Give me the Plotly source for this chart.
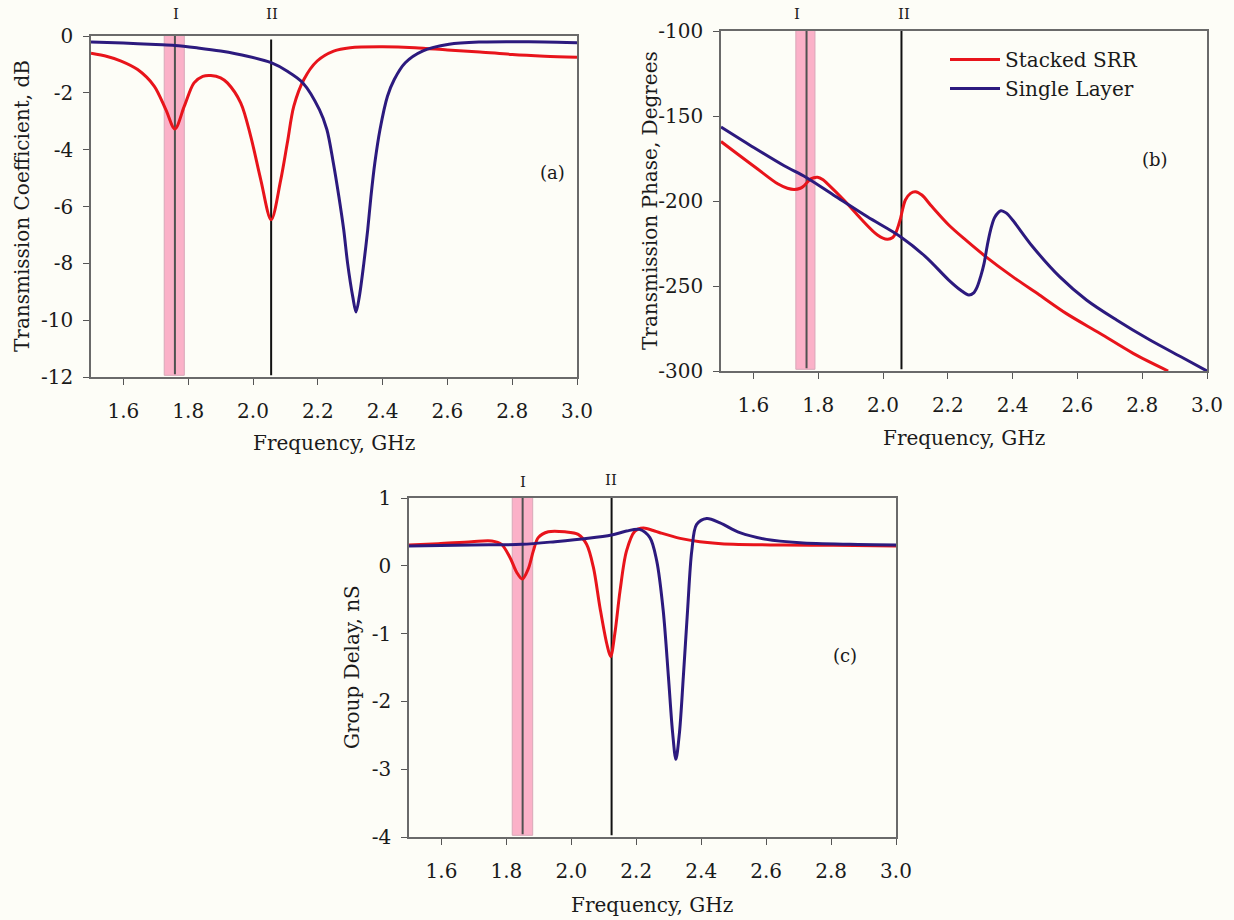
import plotly.graph_objects as go

# ---------------- data ----------------
# (a) Transmission coefficient, dB
a_red_f = [1.50, 1.55, 1.593, 1.644, 1.695, 1.731, 1.759, 1.788, 1.818, 1.845, 1.870, 1.90, 1.921, 1.962,
           1.993, 2.024, 2.056, 2.085, 2.106, 2.126, 2.157, 2.198, 2.249, 2.30, 2.40, 2.50, 2.60, 2.70,
           2.80, 2.90, 3.00]
a_red_v = [-0.61, -0.72, -0.88, -1.18, -1.76, -2.59, -3.27, -2.47, -1.65, -1.42, -1.39, -1.47, -1.65, -2.35,
           -3.53, -5.06, -6.47, -5.1, -3.76, -2.47, -1.53, -0.88, -0.53, -0.41, -0.38, -0.41, -0.49, -0.56,
           -0.65, -0.71, -0.75]
a_blue_f = [1.50, 1.60, 1.70, 1.759, 1.83, 1.90, 1.983, 2.056, 2.106, 2.154, 2.205, 2.228, 2.248, 2.265,
            2.28, 2.292, 2.308, 2.318, 2.328, 2.342, 2.354, 2.364, 2.376, 2.392, 2.415, 2.436, 2.47, 2.523,
            2.605, 2.708, 2.80, 2.90, 3.00]
a_blue_v = [-0.21, -0.25, -0.30, -0.33, -0.42, -0.53, -0.71, -0.94, -1.24, -1.65, -2.59, -3.29, -4.47, -5.65,
            -6.82, -8.0, -9.18, -9.71, -9.18, -8.0, -6.82, -5.65, -4.47, -3.29, -2.12, -1.53, -0.94, -0.53,
            -0.29, -0.21, -0.20, -0.21, -0.24]

# (b) Transmission phase, degrees
b_red_f = [1.50, 1.552, 1.613, 1.675, 1.705, 1.726, 1.745, 1.757, 1.777, 1.798, 1.815, 1.829, 1.88, 1.931,
           1.983, 2.013, 2.030, 2.040, 2.053, 2.069, 2.085, 2.10, 2.12, 2.151, 2.203, 2.255, 2.317, 2.40,
           2.483, 2.565, 2.669, 2.772, 2.88]
b_red_v = [-165, -172.5, -181.2, -189.9, -192.5, -193.2, -192.5, -190.9, -187, -186, -187.5, -189.9, -199.6,
           -210.3, -220, -222.5, -221.5, -218.5, -211, -199.4, -195.5, -194.5, -196.5, -203.3, -214.1,
           -222.9, -232.7, -244.5, -255.3, -266.1, -277.8, -289.6, -300]
b_blue_f = [1.50, 1.593, 1.695, 1.762, 1.849, 1.952, 2.054, 2.131, 2.203, 2.24, 2.265, 2.28, 2.291, 2.302,
            2.312, 2.322, 2.332, 2.345, 2.364, 2.38, 2.40, 2.462, 2.545, 2.628, 2.721, 2.824, 2.928, 3.00]
b_blue_v = [-156.5, -167.6, -179.3, -186, -196.7, -209.3, -221, -232.7, -246.5, -252.5, -255.3, -254,
            -250.4, -244, -236.7, -226, -217.1, -209.5, -205.7, -207, -211.2, -226.9, -244.5, -258.2,
            -270, -281.8, -292.5, -300]

# (c) Group delay, nS
c_red_f = [1.50, 1.59, 1.693, 1.755, 1.785, 1.811, 1.832, 1.849, 1.867, 1.883, 1.898, 1.929, 1.98, 2.021,
           2.047, 2.068, 2.088, 2.109, 2.121, 2.134, 2.15, 2.17, 2.196, 2.222, 2.252, 2.273, 2.335, 2.396,
           2.499, 2.653, 2.807, 3.00]
c_red_v = [0.307, 0.327, 0.356, 0.366, 0.317, 0.122, -0.098, -0.195, -0.049, 0.22, 0.415, 0.502, 0.502,
           0.463, 0.317, -0.024, -0.61, -1.146, -1.34, -1.0, -0.37, 0.22, 0.512, 0.556, 0.52, 0.488, 0.405,
           0.356, 0.317, 0.307, 0.302, 0.293]
c_blue_f = [1.50, 1.693, 1.847, 1.95, 2.052, 2.124, 2.17, 2.21, 2.242, 2.263, 2.283, 2.299, 2.312, 2.322,
            2.333, 2.345, 2.358, 2.371, 2.386, 2.417, 2.458, 2.519, 2.601, 2.704, 2.858, 3.00]
c_blue_v = [0.293, 0.307, 0.317, 0.356, 0.405, 0.454, 0.512, 0.537, 0.415, 0.073, -0.659, -1.634, -2.463,
            -2.854, -2.463, -1.634, -0.659, 0.22, 0.61, 0.698, 0.634, 0.488, 0.39, 0.341, 0.317, 0.307]

series_names = ["Stacked SRR", "Single Layer"]

# marker positions (GHz): band edges, line I, line II per panel
band_lo = [1.726, 1.731, 1.818]
band_hi = [1.788, 1.790, 1.881]
line_I = [1.759, 1.764, 1.850]
line_II = [2.056, 2.057, 2.124]
label_I_x = [1.762, 1.735, 1.851]
label_II_x = [2.059, 2.065, 2.122]
panel_labels = ["(a)", "(b)", "(c)"]
panel_label_pos = [(2.923, -4.82), (2.841, -175.5), (2.843, -1.32)]

x_ticks = [1.6, 1.8, 2.0, 2.2, 2.4, 2.6, 2.8, 3.0]
ya_ticks = [0, -2, -4, -6, -8, -10, -12]
yb_ticks = [-100, -150, -200, -250, -300]
yc_ticks = [1, 0, -1, -2, -3, -4]

# ---------------- figure ----------------
W, H = 1234, 920
RED = "#e8141b"
BLUE = "#2c1a7e"
FONT = "DejaVu Serif"
BG = "#fdfdf7"
TXT = "#1a1a1a"

def px_x(p):
    return p / W

def px_y(p):
    return 1 - p / H

fig = go.Figure()

panels = [
    ("x", "y", a_red_f, a_red_v, a_blue_f, a_blue_v),
    ("x2", "y2", b_red_f, b_red_v, b_blue_f, b_blue_v),
    ("x3", "y3", c_red_f, c_red_v, c_blue_f, c_blue_v),
]
for i, (xa, ya, rf, rv, bf, bv) in enumerate(panels):
    fig.add_trace(go.Scatter(x=rf, y=rv, xaxis=xa, yaxis=ya, mode="lines",
                             line=dict(color=RED, width=3, shape="spline", smoothing=0.9),
                             name=series_names[0], showlegend=(i == 1)))
    fig.add_trace(go.Scatter(x=bf, y=bv, xaxis=xa, yaxis=ya, mode="lines",
                             line=dict(color=BLUE, width=3, shape="spline", smoothing=0.9),
                             name=series_names[1], showlegend=(i == 1)))

# y ranges for markers
y_ranges = [(-12, 0), (-300, -100), (-4, 1)]
shapes = []
annotations = []
for i in range(3):
    xr = "x" if i == 0 else f"x{i+1}"
    yr = "y" if i == 0 else f"y{i+1}"
    lo, hi = y_ranges[i]
    span = hi - lo
    shapes.append(dict(type="rect", xref=xr, yref=yr, x0=band_lo[i], x1=band_hi[i],
                       y0=lo + 0.005 * span, y1=hi + 0.01 * span,
                       fillcolor="#fbb1c8", line=dict(color="#d8a8b8", width=1), layer="below"))
    shapes.append(dict(type="line", xref=xr, yref=yr, x0=line_I[i], x1=line_I[i],
                       y0=lo + 0.008 * span, y1=hi, line=dict(color="#505050", width=2), layer="below"))
    shapes.append(dict(type="line", xref=xr, yref=yr, x0=line_II[i], x1=line_II[i],
                       y0=lo + 0.005 * span, y1=hi - 0.01 * span if i == 0 else hi,
                       line=dict(color="#111111", width=2), layer="below"))
    lab_y = [14, 14, 482][i]
    lab_y2 = [14, 14, 480][i]
    annotations.append(dict(text="I", x=label_I_x[i], xref=xr, y=px_y(lab_y), yref="paper",
                            xanchor="center", yanchor="middle",
                            showarrow=False, font=dict(family=FONT, size=15, color=TXT)))
    annotations.append(dict(text="II", x=label_II_x[i], xref=xr, y=px_y(lab_y2), yref="paper",
                            xanchor="center", yanchor="middle",
                            showarrow=False, font=dict(family=FONT, size=15, color=TXT)))
    px_, py_ = panel_label_pos[i]
    annotations.append(dict(text=panel_labels[i], x=px_, y=py_, xref=xr, yref=yr,
                            xanchor="center", yanchor="middle",
                            showarrow=False, font=dict(family=FONT, size=18, color=TXT)))

# axis titles as annotations
titles = [
    ("Transmission Coefficient, dB", px_x(22), px_y(206)),
    ("Transmission Phase, Degrees", px_x(650), px_y(201)),
    ("Group Delay, nS", px_x(352), px_y(667)),
]
for t, x, y in titles:
    annotations.append(dict(text=t, x=x, y=y, xref="paper", yref="paper", textangle=-90,
                            xanchor="center", yanchor="middle",
                            showarrow=False, font=dict(family=FONT, size=20, color=TXT)))
xtitles = [(px_x(334), px_y(443)), (px_x(964), px_y(438)), (px_x(652), px_y(905))]
for x, y in xtitles:
    annotations.append(dict(text="Frequency, GHz", x=x, y=y, xref="paper", yref="paper",
                            xanchor="center", yanchor="middle",
                            showarrow=False, font=dict(family=FONT, size=20, color=TXT)))

axis_common = dict(showline=True, mirror=True, linecolor="#6a6a6a", linewidth=1.5,
                   ticks="outside", ticklen=6, tickcolor="#555", tickwidth=1.2,
                   showgrid=False, zeroline=False, automargin=False,
                   tickfont=dict(family=FONT, size=20, color=TXT))

def xaxis(dom, anchor):
    return dict(axis_common, domain=dom, anchor=anchor, range=[1.5, 3.0],
                tickvals=x_ticks, ticktext=[f"{v:.1f}" for v in x_ticks], ticklabelstandoff=9)

def yaxis(dom, anchor, rng, ticks):
    return dict(axis_common, domain=dom, anchor=anchor, range=rng,
                tickvals=ticks, ticktext=[str(v) for v in ticks], ticklabelstandoff=6)

fig.update_layout(
    width=W, height=H,
    margin=dict(l=0, r=0, t=0, b=0, autoexpand=False),
    paper_bgcolor=BG, plot_bgcolor=BG,
    showlegend=True,
    xaxis=xaxis([px_x(91), px_x(577)], "y"),
    yaxis=yaxis([px_y(377), px_y(36)], "x", [-12, 0], ya_ticks),
    xaxis2=xaxis([px_x(721), px_x(1207)], "y2"),
    yaxis2=yaxis([px_y(371), px_y(31)], "x2", [-300, -100], yb_ticks),
    xaxis3=xaxis([px_x(409), px_x(896)], "y3"),
    yaxis3=yaxis([px_y(837), px_y(498)], "x3", [-4, 1], yc_ticks),
    shapes=shapes,
    annotations=annotations,
    legend=dict(x=px_x(945), y=px_y(40), xanchor="left", yanchor="top",
                bgcolor="rgba(0,0,0,0)", font=dict(family=FONT, size=20, color=TXT),
                itemwidth=50, tracegroupgap=0),
)

fig.write_html("out.html")
